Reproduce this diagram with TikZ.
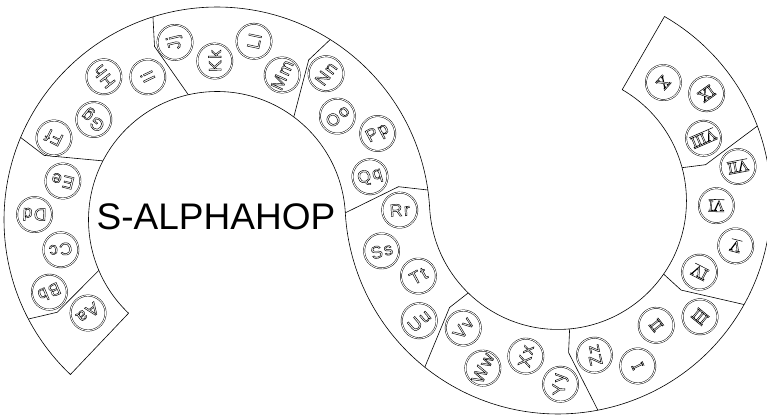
\documentclass[tikz,border=0pt]{standalone}
\usepackage{fontspec}
\setmainfont{Liberation Sans}
\newfontfamily\romf{Liberation Serif}
\newcommand\olt[1]{\special{pdf:literal direct 1 Tr 0.45 w}#1\special{pdf:literal direct 0 Tr}}
\def\twoi#1#2\relax{#1\kern1.5pt#2}
\newcommand\two[1]{\expandafter\twoi#1\relax}
\newcommand\rmn[1]{\vbox{\hrule height .55pt\kern .8pt\hbox{\romf #1}\kern .8pt\hrule height .55pt}}
\begin{document}
\begin{tikzpicture}[x=1pt,y=1pt,
  outl/.style={line width=0.6pt, line join=round},
  disc/.style={circle, draw, double, double distance=0.9pt, line width=0.45pt, minimum size=35pt, inner sep=0pt, text=black},
  ltr/.style={font=\fontsize{17.5}{17.5}\selectfont},
  rmnf/.style={font=\fontsize{15}{15}\selectfont}]
\useasboundingbox (0,0) rectangle (767,-416);
\coordinate (CL) at (217,-220);
\coordinate (CR) at (557.97,-200.94);
% band outline
\draw[outl] ([shift={(226.5:213)}]CL) arc[start angle=226.5, end angle=3.2, radius=213]
  arc[start angle=183.2, end angle=420, radius=128.5]
  -- ([shift={(60:213)}]CR)
  arc[start angle=420, end angle=183.2, radius=213]
  arc[start angle=3.2, end angle=226.5, radius=128.5] -- cycle;
% dividers
\begin{scope}[shift={(CL)}]
  \foreach \a in {207.7,157.2,107.5,57.9}
    \draw[outl] (\a:213) -- (\a+2.3:184.5) -- (\a-4.6:128.5);
  \draw[outl] (8.1:213) -- (10.4:184.5) -- (3.2:128.5);
\end{scope}
\begin{scope}[shift={(CR)}]
  \foreach \a in {231.3,280.8,330.9,20.6}
    \draw[outl] (\a:213) -- (\a-6.8:152) -- (\a-5.6:128.5);
\end{scope}
% discs
\begin{scope}[shift={(CL)}]
  \foreach \t [count=\k from 0] in {Aa,Bb,Cc,Dd,Ee,Ff,Gg,Hh,Ii,Jj,Kk,Ll,Mm,Nn,Oo,Pp,Qq}{
    \pgfmathsetmacro\ang{215.8-12.5*\k}
    \pgfmathsetmacro\rad{isodd(\k)?182.5:159}
    \node[disc,ltr,rotate=\ang] (L\k) at (\ang:\rad) {\olt{\two\t}};
  }
\end{scope}
\begin{scope}[shift={(CR)}]
  \foreach \t [count=\k from 0] in {Rr,Ss,Tt,Uu,Vv,Ww,Xx,Yy,Zz}{
    \pgfmathsetmacro\ang{183.3+12.5*\k}
    \pgfmathsetmacro\rad{isodd(\k)?183.3:158.5}
    \node[disc,ltr,rotate=\ang+180] (R\k) at (\ang:\rad) {\olt{\two\t}};
  }
  \foreach \t [count=\k from 9] in {I,II,III,IV,V,VI,VII,VIII,IX,X}{
    \pgfmathsetmacro\ang{183.3+12.5*\k}
    \pgfmathsetmacro\rad{isodd(\k)?183.3:158.5}
    \node[disc,rmnf,rotate=\ang+180] (R\k) at (\ang:\rad) {\olt{\rmn{\t}}};
  }
\end{scope}
\node (title) at (216,-216.5) {\fontsize{37}{37}\selectfont S-ALPHAHOP};
\end{tikzpicture}
\end{document}
